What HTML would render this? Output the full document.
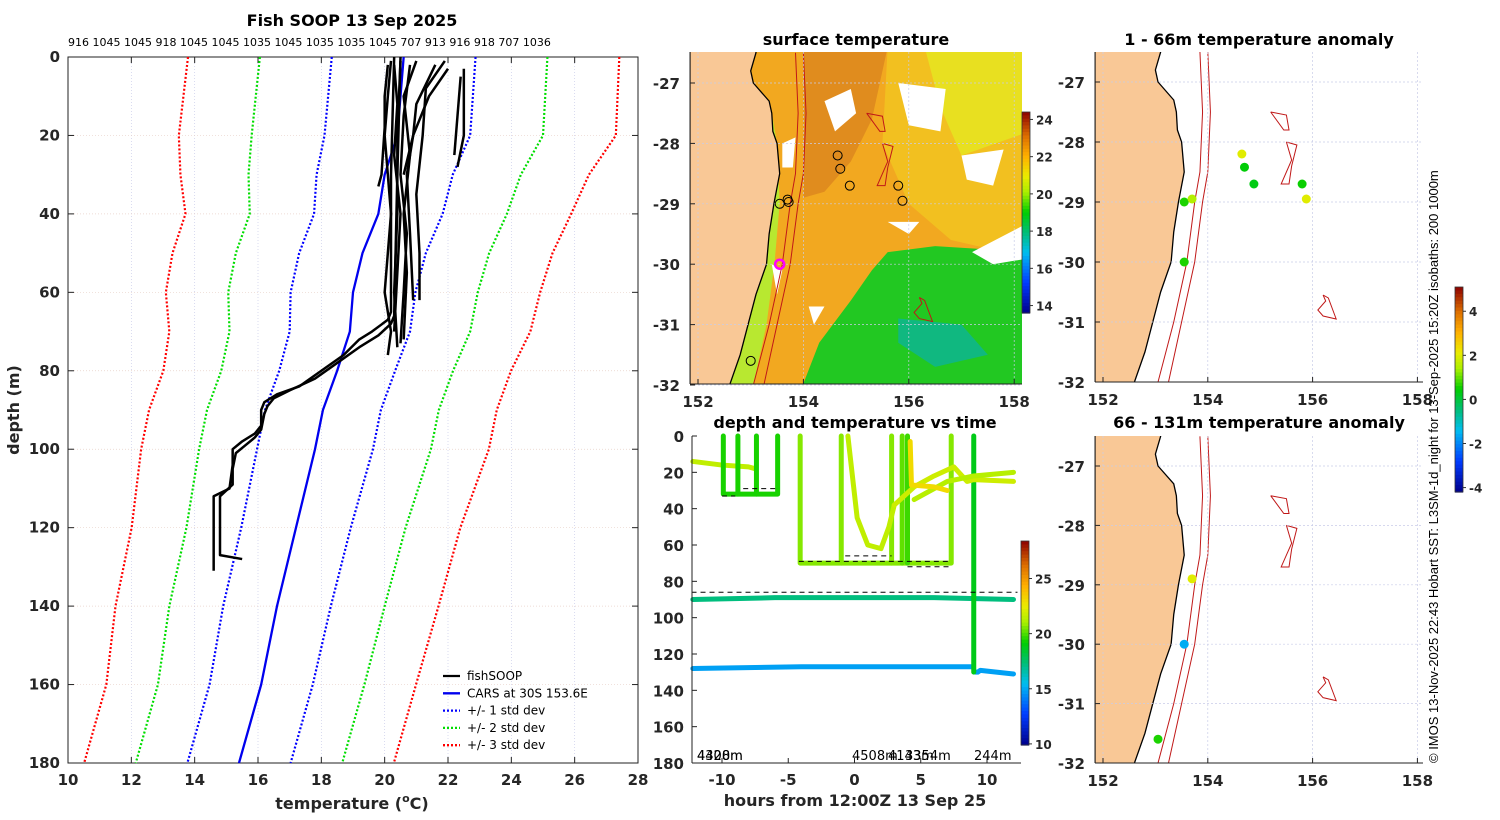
<!DOCTYPE html>
<html><head><meta charset="utf-8"><style>
html,body{margin:0;padding:0;background:#fff;}
svg{display:block;font-family:"DejaVu Sans","Liberation Sans",sans-serif;}
.tk{font-weight:bold;font-size:15px;fill:#262626;}
.ttl{font-weight:bold;font-size:16px;fill:#000;}
</style></head><body>
<svg id="fig" width="1500" height="820" viewBox="0 0 1500 820" xmlns="http://www.w3.org/2000/svg">
<rect width="1500" height="820" fill="#fff"/>
</svg>
<script>
// ===== Left chart data =====
const carsDepths=[0,20,30,40,50,60,70,80,90,100,120,140,160,180];
const carsMean=[20.6,20.4,20.0,19.8,19.3,19.0,18.9,18.5,18.05,17.8,17.2,16.6,16.1,15.4];
const carsStd=[2.27,2.3,2.15,2.03,2.0,1.97,1.9,1.83,1.83,1.83,1.73,1.7,1.63,1.63];
const tempTicks=[10,12,14,16,18,20,22,24,26,28];
const depthTicks=[0,20,40,60,80,100,120,140,160,180];
const topLabels=["916","1045","1045","918","1045","1045","1035","1045","1035","1035","1045","707","913","916","918","707","1036"];
const fishDepths=[
 [0,30,65,67,70,72,76,80,84,86,88,90,94,96,98,100,104,110,112,114,120,127,131],
 [0,30,66,68,71,74,78,82,85,87,89,91,95,97,99,101,105,109,112,115,127,128],
 [1,10,20,30,40,50,60,70,76],[1,20,40,60,74],[2,15,30,45,60,73],[1,10,25,40,55,72],
 [2,12,20,30,45,62],[1,8,20,35,50,62],[2,10,18,30,33],[5,15,25],[3,20,28],[3,10,20,30],[2,12,25,40,55,70]
];
const fishTemps=[
 [20.3,20.2,20.2,20.1,19.6,19.2,18.7,18.0,17.3,16.6,16.2,16.1,16.1,15.9,15.5,15.2,15.2,15.1,14.6,14.6,14.6,14.6,14.6],
 [20.5,20.4,20.3,20.2,19.8,19.2,18.5,17.8,17.0,16.5,16.3,16.2,16.1,15.9,15.6,15.3,15.2,15.2,14.8,14.8,14.8,15.5],
 [20.2,20.1,20.0,20.1,20.2,20.1,20.0,20.2,20.1],[20.5,20.4,20.4,20.3,20.4],[20.8,20.6,20.5,20.7,20.6,20.5],
 [21.0,20.6,20.8,20.6,20.7,20.6],[21.6,21.0,20.9,20.7,20.8,20.9],[21.9,21.3,21.2,21.0,21.1,21.1],
 [20.1,20.0,20.0,19.9,19.8],[22.4,22.3,22.2],[22.5,22.5,22.3],[22.0,21.4,20.9,20.6],[20.3,20.4,20.3,20.5,20.4,20.3]
];
// ===== Time panel data =====
const hourTicks=[-10,-5,0,5,10];
const segTimes=[[-12.2,-6,0,6,12],[-12.2,-4,3,8.9],[9.1,9.3,9.5,12],[9,9,9,9],[-12.2,-10,-8,-7.5],
 [-9.9,-9.9,-5.8,-5.8],[-8.8,-8.8],[-7.4,-7.4],[-4.1,-4.1,7.3,7.3],[-1.0,-1.0],[2.8,2.8],[3.6,3.6],[4.0,4.0],
 [-0.5,0.2,1.0,2.0,2.6,3.0],[3.0,4.5,6,7.5,8.5,9,12],[4.5,7,9,12],[4.2,4.3,6,7]];
const segDepths=[[90,89,89,89,90],[128,127,127,127],[130,130,129,131],[0,30,90,130],[14,16,17,18],
 [0,32,32,0],[0,32],[0,32],[0,70,70,0],[0,70],[0,70],[0,70],[0,70],
 [0,45,60,62,50,38],[38,28,22,17,25,24,25],[35,25,22,20],[3,27,28,30]];
const segTemps=[17.2,14.8,14.8,18.8,21.5,19.4,19.4,19.4,20.6,20.6,20.6,20.2,19.8,21.5,21.8,21.3,23];
const hourDash=[[-10,-9],[-8.4,-5.8],[-4.2,7.3],[-0.7,2.8],[4,7.3],[-12.3,12.3]];
const depthDash=[33,29,69,66,72,86];
// ===== Map data =====
const lonTicks=[152,154,156,158];
const latTicks=[-27,-28,-29,-30,-31,-32];
const sstLons=[154.65,154.7,154.88,155.8,155.88,153.55,153.7,153.72,153.0];
const sstLats=[-28.2,-28.42,-28.7,-28.7,-28.95,-29.0,-28.93,-28.97,-31.6];
const anomLons1=[154.65,154.7,154.88,155.8,155.88,153.55,153.7,153.55];
const anomLats1=[-28.2,-28.42,-28.7,-28.7,-28.95,-29.0,-28.95,-30.0];
const anomVals1=[2.0,0.4,0.3,0.5,2.0,0.6,1.5,0.6];
const anomLons2=[153.7,153.55,153.05];
const anomLats2=[-28.9,-30.0,-31.6];
const anomVals2=[2.0,-1.6,0.6];
const coastLats=[-26.5,-26.8,-27,-27.3,-27.5,-27.8,-28,-28.5,-29,-29.5,-30,-30.5,-31,-31.5,-32];
const coastLons=[153.1,153.0,153.05,153.35,153.4,153.42,153.5,153.55,153.44,153.35,153.3,153.1,152.95,152.8,152.6];
const iso200Lons=[153.85,153.9,153.85,153.75,153.6,153.35,153.05];
const iso1000Lons=[154.0,154.05,154.0,153.9,153.75,153.5,153.25];
const isoLats=[-26.5,-27.5,-28.5,-29,-30,-31,-32];

const NS="http://www.w3.org/2000/svg";
const fig=document.getElementById('fig');
function mk(tag,attrs,parent,name,inter){
  const el=document.createElementNS(NS,tag);
  for(const k in attrs) el.setAttribute(k,attrs[k]);
  
  
  (parent||fig).appendChild(el);return el;
}
function txt(x,y,s,cls,anchor,name,extra){
  const a=Object.assign({x:x,y:y,'text-anchor':anchor||'middle'},extra||{});
  if(cls)a['class']=cls;
  const t=mk('text',a,null,name,false);t.textContent=s;return t;
}
const stops=[[0,[0,0,140]],[0.15,[0,60,255]],[0.3,[0,190,240]],[0.4,[0,190,120]],[0.5,[0,205,0]],[0.6,[170,240,0]],[0.68,[235,235,0]],[0.78,[255,175,0]],[0.88,[220,110,0]],[1,[140,0,0]]];
function cmap(v){v=Math.max(0,Math.min(1,v));for(let i=1;i<stops.length;i++){if(v<=stops[i][0]){const a=stops[i-1],b=stops[i],f=(v-a[0])/(b[0]-a[0]);const c=a[1].map((x,j)=>Math.round(x+(b[1][j]-x)*f));return 'rgb('+c.join(',')+')';}}return 'rgb(140,0,0)';}
function colorbar(x,y0,y1,vmin,vmax,ticks,name){
  const g=mk('g',{},null,name,false);
  const n=60,h=(y1-y0)/n;
  for(let i=0;i<n;i++){mk('rect',{x:x,y:y0+i*h,width:8,height:h+0.6,fill:cmap(1-(i+0.5)/n)},g,'colorbar-cell',false);}
  mk('rect',{x:x,y:y0,width:8,height:y1-y0,fill:'none',stroke:'#333','stroke-width':0.8},g,'colorbar-frame',false);
  ticks.forEach(t=>{const yy=y1-(t-vmin)/(vmax-vmin)*(y1-y0);
    mk('line',{x1:x+8,x2:x+11,y1:yy,y2:yy,stroke:'#333'},g,'colorbar-tick',false);
    txt(x+14,yy+5,String(t),null,'start','colorbar-label',{'font-size':'12','font-weight':'bold',fill:'#262626'});});
}

// ===== LEFT CHART =====
const L={x0:68,x1:638,y0:57,y1:763};
const tx=t=>L.x0+(t-10)/18*(L.x1-L.x0), dy=d=>L.y0+d/180*(L.y1-L.y0);
txt(352,26,'Fish SOOP 13 Sep 2025','ttl','middle','left-chart-title');
txt(68,46,topLabels.join(' '),null,'start','profile-max-depths',{'font-size':'11',fill:'#000'});
tempTicks.forEach(t=>{mk('line',{x1:tx(t),x2:tx(t),y1:L.y0,y2:L.y1,stroke:'#c8cce8','stroke-width':0.7,'stroke-dasharray':'1 2'},null,'temp-gridline',false);
  mk('line',{x1:tx(t),x2:tx(t),y1:L.y0,y2:L.y0+6,stroke:'#222'},null,'temp-tick',false);
  mk('line',{x1:tx(t),x2:tx(t),y1:L.y1,y2:L.y1-6,stroke:'#222'},null,'temp-tick',false);
  txt(tx(t),785,String(t),'tk','middle','temp-tick-label');});
depthTicks.forEach(d=>{mk('line',{x1:L.x0,x2:L.x1,y1:dy(d),y2:dy(d),stroke:'#e8d0c8','stroke-width':0.7,'stroke-dasharray':'1 2'},null,'depth-gridline',false);
  mk('line',{x1:L.x0,x2:L.x0+6,y1:dy(d),y2:dy(d),stroke:'#222'},null,'depth-tick',false);
  mk('line',{x1:L.x1,x2:L.x1-6,y1:dy(d),y2:dy(d),stroke:'#222'},null,'depth-tick',false);
  txt(60,dy(d)+5,String(d),'tk','end','depth-tick-label');});
mk('rect',{x:L.x0,y:L.y0,width:L.x1-L.x0,height:L.y1-L.y0,fill:'none',stroke:'#222','stroke-width':1},null,'left-plot-frame',false);
const sdCol={1:'#0000ff',2:'#00dd00',3:'#ff0000'};
[1,2,3].forEach(k=>{[-1,1].forEach(s=>{
  const pts=carsDepths.map((d,i)=>tx(carsMean[i]+s*k*carsStd[i])+','+dy(d)).join(' ');
  mk('polyline',{points:pts,fill:'none',stroke:sdCol[k],'stroke-width':2.2,'stroke-dasharray':'2 2'},null,'std-dev-'+k+'-line',false);});});
mk('polyline',{points:carsDepths.map((d,i)=>tx(carsMean[i])+','+dy(d)).join(' '),fill:'none',stroke:'#0000ee','stroke-width':2.3},null,'cars-mean-line',false);
fishDepths.forEach((ds,j)=>{mk('polyline',{points:ds.map((d,i)=>tx(fishTemps[j][i])+','+dy(d)).join(' '),fill:'none',stroke:'#000','stroke-width':2.5,'stroke-linejoin':'round'},null,'fishsoop-profile',false);});
txt(0,0,'depth (m)',null,'middle','y-axis-title',{'font-size':'16','font-weight':'bold',fill:'#262626',transform:'translate(19,410) rotate(-90)'});
const xt=txt(352,809,'temperature (',null,'middle','x-axis-title',{'font-size':'16','font-weight':'bold',fill:'#262626'});
const sup=document.createElementNS(NS,'tspan');sup.setAttribute('dy','-7');sup.setAttribute('font-size','11');sup.textContent='o';xt.appendChild(sup);
const cc=document.createElementNS(NS,'tspan');cc.setAttribute('dy','7');cc.textContent='C)';xt.appendChild(cc);
// legend
const leg=[['fishSOOP','#000',null],['CARS at 30S 153.6E','#0000ee',null],['+/- 1 std dev','#0000ff','2 2'],['+/- 2 std dev','#00dd00','2 2'],['+/- 3 std dev','#ff0000','2 2']];
leg.forEach((e,i)=>{const y=676+i*17.3;const a={x1:443,x2:460,y1:y,y2:y,stroke:e[1],'stroke-width':2.3};if(e[2])a['stroke-dasharray']=e[2];
  mk('line',a,null,'legend-swatch',false);txt(467,y+4,e[0],null,'start','legend-entry',{'font-size':'12',fill:'#000'});});

// ===== MAP helpers =====
function mapPanel(px0,px1,py0,py1,lon0,lat0,dx,dyv,title,name){
  const lx=l=>lon0+(l-152)*dx, ly=a=>lat0+(-27-a)*dyv;
  const g=mk('g',{},null,name,false);
  const clip=mk('clipPath',{id:'clip-'+name},g,'clip',false);
  mk('rect',{x:px0,y:py0,width:px1-px0,height:py1-py0},clip,'clip-rect',false);
  const inner=mk('g',{'clip-path':'url(#clip-'+name+')'},g,name+'-content',false);
  txt((px0+px1)/2,title[1],title[0],'ttl','middle',name+'-title');
  return {g:g,inner:inner,lx:lx,ly:ly,px0:px0,px1:px1,py0:py0,py1:py1};
}
function land(P){
  let pts=coastLats.map((a,i)=>P.lx(coastLons[i])+','+P.ly(a));
  pts.push(P.px0+','+P.ly(-32.2));pts.push(P.px0+','+P.ly(-26.3));pts.unshift(P.lx(153.1)+','+P.ly(-26.3));
  mk('polygon',{points:pts.join(' '),fill:'#f9c896',stroke:'#000','stroke-width':1.3},P.inner,'land',false);
}
function isobaths(P){
  mk('polyline',{points:isoLats.map((a,i)=>P.lx(iso200Lons[i])+','+P.ly(a)).join(' '),fill:'none',stroke:'#c01818','stroke-width':1},P.inner,'isobath-200m',false);
  mk('polyline',{points:isoLats.map((a,i)=>P.lx(iso1000Lons[i])+','+P.ly(a)).join(' '),fill:'none',stroke:'#c01818','stroke-width':1},P.inner,'isobath-1000m',false);
  const loops=[[[155.2,-27.5],[155.5,-27.55],[155.55,-27.8],[155.45,-27.8],[155.2,-27.5]],[[155.5,-28],[155.7,-28.05],[155.6,-28.4],[155.55,-28.7],[155.4,-28.7],[155.6,-28.3],[155.5,-28]],[[156.2,-30.55],[156.3,-30.6],[156.45,-30.95],[156.2,-30.9],[156.1,-30.8],[156.25,-30.65],[156.2,-30.55]]];
  loops.forEach(l=>mk('polyline',{points:l.map(p=>P.lx(p[0])+','+P.ly(p[1])).join(' '),fill:'none',stroke:'#c01818','stroke-width':1},P.inner,'eddy-isobath',false));
}
function axes(P,showLon,gridCol){
  lonTicks.forEach(l=>{const x=P.lx(l);
    mk('line',{x1:x,x2:x,y1:P.py0,y2:P.py1,stroke:gridCol,'stroke-width':0.7,'stroke-dasharray':'2 2'},P.g,'lon-gridline',false);
    mk('line',{x1:x,x2:x,y1:P.py1,y2:P.py1-5,stroke:'#222'},P.g,'lon-tick',false);
    if(showLon)txt(x,P.py1+23,String(l),'tk','middle','lon-tick-label');});
  latTicks.forEach(a=>{const y=P.ly(a);
    mk('line',{x1:P.px0,x2:P.px1,y1:y,y2:y,stroke:gridCol,'stroke-width':0.7,'stroke-dasharray':'2 2'},P.g,'lat-gridline',false);
    mk('line',{x1:P.px0,x2:P.px0+5,y1:y,y2:y,stroke:'#222'},P.g,'lat-tick',false);
    txt(P.px0-10,y+6,String(a),'tk','end','lat-tick-label');});
  mk('line',{x1:P.px0,x2:P.px1,y1:P.py1,y2:P.py1,stroke:'#222'},P.g,'map-x-axis',false);
  mk('line',{x1:P.px0,x2:P.px0,y1:P.py0,y2:P.py1,stroke:'#222'},P.g,'map-y-axis',false);
}

// ===== SST MAP =====
const S=mapPanel(690,1022,52,384,698,83,52.7,60.4,['surface temperature',45],'sst-map');
function poly(P,pts,fill,name){mk('polygon',{points:pts.map(p=>P.lx(p[0])+','+P.ly(p[1])).join(' '),fill:fill},P.inner,name,false);}
mk('rect',{x:690,y:52,width:332,height:332,fill:'#f2a820'},S.inner,'sst-field',false);
poly(S,[[154,-26.4],[155.6,-26.4],[155.3,-27.6],[154.9,-28.3],[154.4,-28.8],[154,-28.9]],'#e08c1e','sst-warm-core');
poly(S,[[155.6,-26.4],[158.3,-26.4],[158.3,-29.9],[156.8,-29.6],[156,-29],[155.5,-28]],'#f2c020','sst-east-field');
poly(S,[[156.3,-26.4],[158.3,-26.4],[158.3,-27.8],[157,-28.2],[156.6,-27.4]],'#e8e020','sst-ne-field');
poly(S,[[158.3,-29.8],[156.5,-29.7],[155.6,-29.8],[155.3,-30.1],[154.9,-30.6],[154.3,-31.3],[153.9,-32.2],[158.3,-32.2]],'#22c822','sst-cool-water');
poly(S,[[155.8,-30.9],[157,-31],[157.5,-31.5],[156.5,-31.7],[155.8,-31.3]],'#10b880','sst-cool-core');
poly(S,[[153.1,-27.5],[153.4,-27.5],[153.5,-28],[153.55,-29],[153.45,-30],[153.3,-31],[153.0,-32.2],[152.6,-32.2]],'#b8e830','sst-coastal-strip');
[[[155.8,-27],[156.7,-27.1],[156.6,-27.8],[156,-27.7]],[[154.4,-27.3],[154.9,-27.1],[155,-27.5],[154.6,-27.8]],[[157,-28.2],[157.8,-28.1],[157.6,-28.7],[157.1,-28.6]],[[157.2,-29.8],[158.3,-29.3],[158.3,-29.9],[157.6,-30.0]],[[153.6,-28.0],[153.85,-27.9],[153.8,-28.4],[153.6,-28.4]],[[154.1,-30.7],[154.4,-30.7],[154.2,-31.0]],[[153.4,-30.0],[153.6,-30.1],[153.5,-30.5]],[[155.6,-29.3],[156.2,-29.3],[156,-29.5]]].forEach(c=>poly(S,c,'#ffffff','cloud-patch'));
land(S);isobaths(S);axes(S,true,'#c8cce8');
sstLons.forEach((l,i)=>mk('circle',{cx:S.lx(l),cy:S.ly(sstLats[i]),r:4.5,fill:'none',stroke:'#000','stroke-width':1},S.g,'profile-location',false));
mk('circle',{cx:S.lx(153.55),cy:S.ly(-30.0),r:4.5,fill:'none',stroke:'#ff00ff','stroke-width':2.5},S.g,'cars-location',false);
colorbar(1022,112,313,13.6,24.4,[14,16,18,20,22,24],'sst-colorbar');

// ===== ANOMALY MAPS =====
function anom(v){return cmap((v+4.2)/9.3);}
const A1=mapPanel(1095,1423,52,382,1103,82,52.4,60,['1 - 66m temperature anomaly',45],'anomaly-map-shallow');
land(A1);isobaths(A1);axes(A1,true,'#c8cce8');
anomLons1.forEach((l,i)=>mk('circle',{cx:A1.lx(l),cy:A1.ly(anomLats1[i]),r:4.5,fill:anom(anomVals1[i])},A1.g,'anomaly-dot',false));
const A2=mapPanel(1095,1423,436,763,1103,466,52.4,59.4,['66 - 131m temperature anomaly',428],'anomaly-map-deep');
land(A2);isobaths(A2);axes(A2,true,'#c8cce8');
anomLons2.forEach((l,i)=>mk('circle',{cx:A2.lx(l),cy:A2.ly(anomLats2[i]),r:4.5,fill:anom(anomVals2[i])},A2.g,'anomaly-dot',false));
colorbar(1455,287,492,-4.2,5.1,[-4,-2,0,2,4],'anomaly-colorbar');
txt(0,0,'© IMOS 13-Nov-2025 22:43 Hobart SST: L3SM-1d_night for 13-Sep-2025 15:20Z isobaths: 200  1000m',null,'start','credit-text',{'font-size':'13',fill:'#000','font-family':'Liberation Sans, sans-serif',transform:'translate(1438,763) rotate(-90)'});

// ===== TIME PANEL =====
const T={x0:692,x1:1021,y0:436,y1:763};
const hx=h=>854.5+h*13.25, hy=d=>T.y0+d/180*(T.y1-T.y0);
txt(855,428,'depth and temperature vs time','ttl','middle','time-panel-title');
segTimes.forEach((ts,j)=>{mk('polyline',{points:ts.map((t,i)=>hx(t)+','+hy(segDepths[j][i])).join(' '),fill:'none',stroke:cmap((segTemps[j]-9.9)/18.5),'stroke-width':5,'stroke-linejoin':'round','stroke-linecap':'round'},null,'sensor-track',false);});
hourDash.forEach((h,i)=>mk('line',{x1:hx(h[0]),x2:hx(h[1]),y1:hy(depthDash[i]),y2:hy(depthDash[i]),stroke:'#000','stroke-width':1,'stroke-dasharray':'5 4'},null,'bottom-depth-dash',false));
hourTicks.forEach(h=>{mk('line',{x1:hx(h),x2:hx(h),y1:T.y1,y2:T.y1-5,stroke:'#222'},null,'hour-tick',false);txt(hx(h),785,String(h),'tk','middle','hour-tick-label');});
depthTicks.forEach(d=>{mk('line',{x1:T.x0,x2:T.x0+5,y1:hy(d),y2:hy(d),stroke:'#222'},null,'time-depth-tick',false);txt(684,hy(d)+6,String(d),'tk','end','time-depth-tick-label');});
mk('line',{x1:T.x0,x2:T.x1,y1:T.y1,y2:T.y1,stroke:'#222'},null,'time-x-axis',false);
mk('line',{x1:T.x0,x2:T.x0,y1:T.y0,y2:T.y1,stroke:'#222'},null,'time-y-axis',false);
[['4408m',697],['4320m',697],['4508m',852],['4143m',888],['3354m',905],['244m',974]].forEach(e=>txt(e[1],760,e[0],null,'start','bottom-depth-label',{'font-size':'13',fill:'#000'}));
txt(855,806,'hours from 12:00Z 13 Sep 25',null,'middle','time-x-axis-title',{'font-size':'16','font-weight':'bold',fill:'#262626'});
colorbar(1021,541,745,9.9,28.4,[10,15,20,25],'time-colorbar');
</script>
</body></html>
